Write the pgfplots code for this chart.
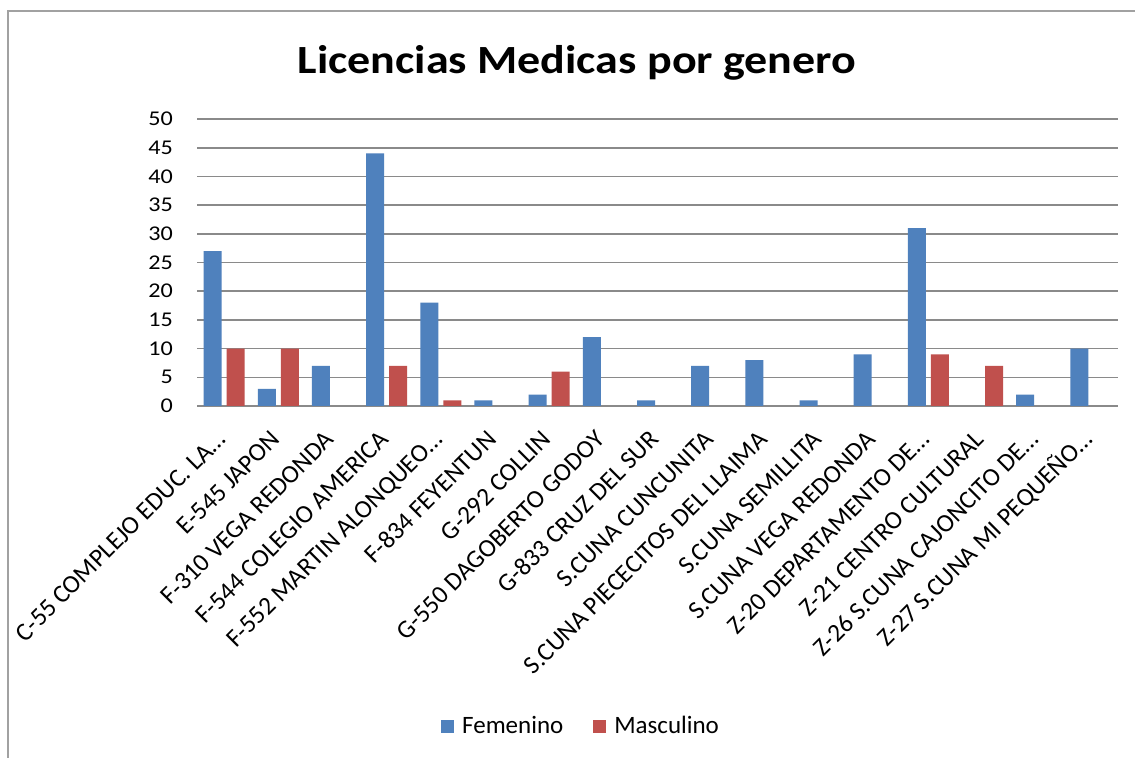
\documentclass[border=0pt]{standalone}
\usepackage{fontspec}
\setmainfont{Carlito}
\usepackage{pgfplots}
\pgfplotsset{compat=1.18}
\definecolor{fem}{HTML}{4F81BD}
\definecolor{mas}{HTML}{C0504D}
\definecolor{gridc}{HTML}{8A8A8A}

\begin{document}
\begin{tikzpicture}
\useasboundingbox (0,0) rectangle (1135bp,758bp);
\fill[white] (0,0) rectangle (1135bp,758bp);
% chart frame
\draw[gridc!80, line width=1.5bp] (8bp,0) -- (8bp,747bp) -- (1135bp,747bp);
\node[anchor=base, font=\fontsize{40bp}{46bp}\selectfont\bfseries, xscale=1.15]
  at (577bp,684bp) {Licencias Medicas por genero};

\begin{axis}[
    at={(197bp,352bp)}, anchor=south west,
    scale only axis, width=921bp, height=287bp,
    ybar=5bp, bar width=18bp,
    xmin=-0.5, xmax=16.5,
    ymin=0, ymax=50,
    ytick={0,5,10,15,20,25,30,35,40,45,50},
    xtick={0,1,...,16},
    xticklabels={
        {C-55 COMPLEJO EDUC. LA…},
        {E-545 JAPON},
        {F-310 VEGA REDONDA},
        {F-544 COLEGIO AMERICA},
        {F-552 MARTIN ALONQUEO…},
        {F-834 FEYENTUN},
        {G-292 COLLIN},
        {G-550 DAGOBERTO GODOY},
        {G-833 CRUZ DEL SUR},
        {S.CUNA CUNCUNITA},
        {S.CUNA PIECECITOS DEL LLAIMA},
        {S.CUNA SEMILLITA},
        {S.CUNA VEGA REDONDA},
        {Z-20 DEPARTAMENTO DE…},
        {Z-21 CENTRO CULTURAL},
        {Z-26 S.CUNA CAJONCITO DE…},
        {Z-27 S.CUNA MI PEQUEÑO…}},
    xticklabel style={xshift=3bp, yshift=-35bp, rotate=45,
        anchor=base east, inner sep=0pt,
        font=\fontsize{25.5bp}{29bp}\selectfont},
    yticklabel style={inner sep=0pt, xshift=-24bp, xscale=1.15,
        font=\fontsize{21bp}{25bp}\selectfont},
    /pgf/number format/assume math mode=true,
    axis line style={draw=none},
    major tick length=0pt,
    ymajorgrids,
    grid style={gridc, line width=1.6bp},
    legend style={at={(0.417,-1.115)}, anchor=center, draw=none,
        legend columns=2, font=\fontsize{25bp}{29bp}\selectfont,
        /tikz/every odd column/.append style={column sep=6bp},
        /tikz/every even column/.append style={column sep=28bp}},
    legend image code/.code={\fill[#1] (0bp,-6.5bp) rectangle (13bp,6.5bp);},
]
\addplot[fill=fem, draw=none] coordinates {
    (0,27) (1,3) (2,7) (3,44) (4,18) (5,1) (6,2) (7,12) (8,1)
    (9,7) (10,8) (11,1) (12,9) (13,31) (14,0) (15,2) (16,10)};
\addlegendentry{Femenino}
\addplot[fill=mas, draw=none] coordinates {
    (0,10) (1,10) (2,0) (3,7) (4,1) (5,0) (6,6) (7,0) (8,0)
    (9,0) (10,0) (11,0) (12,0) (13,9) (14,7) (15,0) (16,0)};
\addlegendentry{Masculino}
\end{axis}
\end{tikzpicture}
\end{document}
